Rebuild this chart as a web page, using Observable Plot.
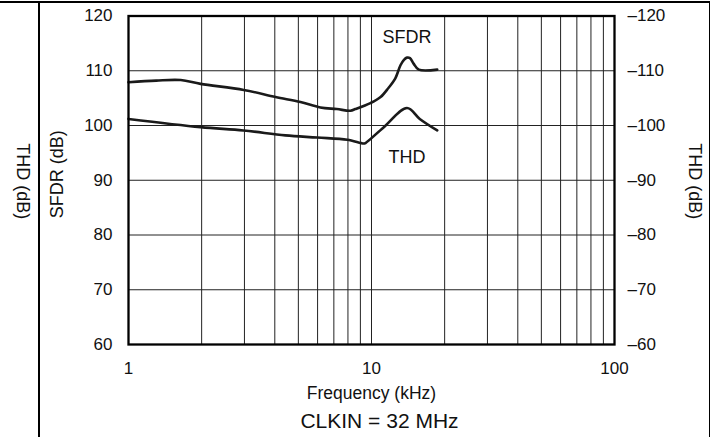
<!DOCTYPE html>
<html><head><meta charset="utf-8">
<script src="https://cdn.jsdelivr.net/npm/d3@7"></script>
<script src="https://cdn.jsdelivr.net/npm/@observablehq/plot@0.6"></script>
<style>
body{margin:0;background:#fff;}
#wrap{position:relative;width:713px;height:437px;overflow:hidden;font-family:"Liberation Sans",Arial,sans-serif;}
#wrap svg{position:absolute;left:0;top:0;}
.ln{position:absolute;background:#000;}
</style></head><body>
<div id="wrap">
  <div class="ln" style="left:0;top:1px;width:710px;height:1.5px"></div>
  <div class="ln" style="left:38px;top:1px;width:1.5px;height:436px"></div>
  <div class="ln" style="left:708.5px;top:1px;width:1.5px;height:436px"></div>
</div>
<script>
// SFDR curve (dB) vs frequency (kHz)
const sfdrFreq = [1, 1.3, 1.64, 1.98, 2.98, 4.03, 5.1, 6.16, 7.2, 8.19, 8.58, 9.9, 10.9, 11.76, 12.5, 13.16, 13.6, 14.0, 14.4, 14.9, 15.65, 18.64];
const sfdrDb   = [107.9, 108.2, 108.3, 107.6, 106.5, 105.2, 104.3, 103.3, 103.0, 102.7, 103.0, 104.1, 105.2, 106.9, 108.5, 111.0, 112.0, 112.4, 112.3, 111.3, 110.2, 110.2];
// THD curve (dB) vs frequency (kHz)
const thdFreq = [1, 1.98, 2.97, 4.42, 5.98, 7.95, 9.3, 9.45, 11.24, 14.0, 15.8, 18.64];
const thdDb   = [101.2, 99.7, 99.1, 98.2, 97.8, 97.4, 96.7, 96.8, 99.7, 103.2, 101.2, 99.1];
// curve labels
const labelText = ["SFDR", "THD"];
const labelFreq = [14.0, 14.0];
const labelDb   = [116.1, 94.2];
// axes
const xTicks = [1, 10, 100];
const xGrid = [2,3,4,5,6,7,8,9,10,20,30,40,50,60,70,80,90];
const yTicks = [60, 70, 80, 90, 100, 110, 120];
const yGrid = [70, 80, 90, 100, 110];

const sfdr = sfdrFreq.map((f, i) => ({f, db: sfdrDb[i]}));
const thd = thdFreq.map((f, i) => ({f, db: thdDb[i]}));
const labels = labelText.map((t, i) => ({t, f: labelFreq[i], db: labelDb[i]}));

const chart = Plot.plot({
  width: 713, height: 437,
  marginLeft: 128, marginRight: 99, marginTop: 15.5, marginBottom: 93,
  style: {fontFamily: "Liberation Sans, Arial, sans-serif", fontSize: "17px", color: "#111", background: "transparent"},
  x: {type: "log", domain: [1, 100]},
  y: {domain: [60, 120]},
  marks: [
    Plot.ruleX(xGrid, {stroke: "#222", strokeWidth: 1}),
    Plot.ruleY(yGrid, {stroke: "#222", strokeWidth: 1}),
    Plot.line(sfdr, {x: "f", y: "db", stroke: "#1a1a1a", strokeWidth: 2.6, curve: "catmull-rom"}),
    Plot.line(thd, {x: "f", y: "db", stroke: "#1a1a1a", strokeWidth: 2.6, curve: "catmull-rom"}),
    Plot.text(labels, {x: "f", y: "db", text: "t", fontSize: 18, fill: "#111"}),
    Plot.frame({stroke: "#000", strokeWidth: 2.3}),
    Plot.axisX({ticks: xTicks, tickFormat: d => String(d), tickSize: 0, tickPadding: 17, fontSize: 17, label: null}),
    Plot.axisY({ticks: yTicks, tickSize: 0, tickPadding: 16, fontSize: 17, label: null}),
    Plot.axisY({anchor: "right", ticks: yTicks, tickFormat: d => "\u2013" + d, tickSize: 0, tickPadding: 13, fontSize: 17, label: null}),
    Plot.text(["Frequency (kHz)"], {frameAnchor: "bottom", dy: 49, lineAnchor: "middle", fontSize: 17.5, fill: "#111"}),
    Plot.text(["CLKIN = 32 MHz"], {frameAnchor: "bottom", dx: 8, dy: 77, lineAnchor: "middle", fontSize: 21, fill: "#111"}),
    Plot.text(["SFDR (dB)"], {frameAnchor: "left", textAnchor: "middle", dx: -71, dy: -6, rotate: -90, lineAnchor: "middle", fontSize: 18, fill: "#111"}),
    Plot.text(["THD (dB)"], {frameAnchor: "right", textAnchor: "middle", dx: 80, dy: 1, rotate: 90, lineAnchor: "middle", fontSize: 18, fill: "#111"}),
    Plot.text(["THD (dB)"], {frameAnchor: "left", textAnchor: "middle", dx: -106, dy: 1, rotate: 90, lineAnchor: "middle", fontSize: 18, fill: "#111"})
  ]
});
document.getElementById("wrap").prepend(chart);
</script>
</body></html>
